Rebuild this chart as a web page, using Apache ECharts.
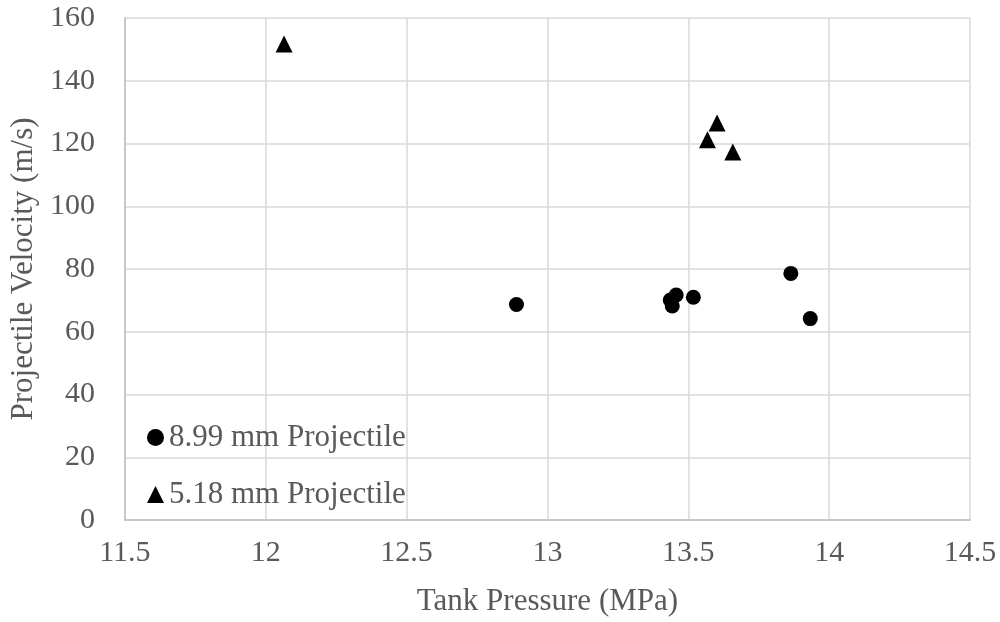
<!DOCTYPE html>
<html>
<head>
<meta charset="utf-8">
<script src="https://cdn.jsdelivr.net/npm/echarts@6/dist/echarts.min.js"></script>
<style>
  html, body { margin: 0; padding: 0; background: #fff; }
  #chart { width: 1000px; height: 622px; }
</style>
</head>
<body>
<div id="chart"></div>
<script>
// tank pressure (MPa) vs projectile velocity (m/s)
const seriesNames = ['8.99 mm Projectile', '5.18 mm Projectile']
const pressure899 = [12.89, 13.436, 13.457, 13.443, 13.518, 13.864, 13.933]
const velocity899 = [68.7, 70.1, 71.7, 68.2, 71.0, 78.6, 64.2]
const pressure518 = [12.065, 13.602, 13.568, 13.658]
const velocity518 = [151.7, 126.5, 121.2, 117.3]

const font = 'Liberation Serif'
const textColor = '#595959'

const toPairs = (xs, ys) => xs.map((x, i) => [x, ys[i]])

const chart = echarts.init(document.getElementById('chart'))
chart.setOption({
  animation: false,
  textStyle: { fontFamily: font },
  grid: { left: 124, right: 30, top: 18, bottom: 101 },
  legend: {
    orient: 'vertical',
    left: 142,
    top: 417,
    itemGap: 26,
    itemWidth: 17,
    itemHeight: 17,
    textStyle: { fontFamily: font, fontSize: 31, color: textColor },
    data: [
      { name: seriesNames[0], icon: 'circle' },
      { name: seriesNames[1], icon: 'triangle' }
    ]
  },
  xAxis: {
    type: 'value',
    min: 11.5,
    max: 14.5,
    interval: 0.5,
    name: 'Tank Pressure (MPa)',
    nameLocation: 'middle',
    nameGap: 66,
    nameTextStyle: { fontFamily: font, fontSize: 31, color: textColor },
    axisLine: { show: true, lineStyle: { color: '#bfbfbf', width: 1.5 } },
    axisTick: { show: false },
    axisLabel: { fontFamily: font, fontSize: 30, color: textColor, margin: 18 },
    splitLine: { show: true, lineStyle: { color: '#d9d9d9', width: 1.5 } }
  },
  yAxis: {
    type: 'value',
    min: 0,
    max: 160,
    interval: 20,
    name: 'Projectile Velocity (m/s)',
    nameLocation: 'middle',
    nameGap: 72,
    nameTextStyle: { fontFamily: font, fontSize: 31, color: textColor },
    axisLine: { show: true, lineStyle: { color: '#bfbfbf', width: 1.5 } },
    axisTick: { show: false },
    axisLabel: { fontFamily: font, fontSize: 30, color: textColor, margin: 30 },
    splitLine: { show: true, lineStyle: { color: '#d9d9d9', width: 1.5 } }
  },
  series: [
    {
      name: seriesNames[0],
      type: 'scatter',
      symbol: 'circle',
      symbolSize: 15,
      itemStyle: { color: '#000', opacity: 1 },
      data: toPairs(pressure899, velocity899)
    },
    {
      name: seriesNames[1],
      type: 'scatter',
      symbol: 'triangle',
      symbolSize: 17,
      itemStyle: { color: '#000', opacity: 1 },
      data: toPairs(pressure518, velocity518)
    }
  ]
})
</script>
</body>
</html>
